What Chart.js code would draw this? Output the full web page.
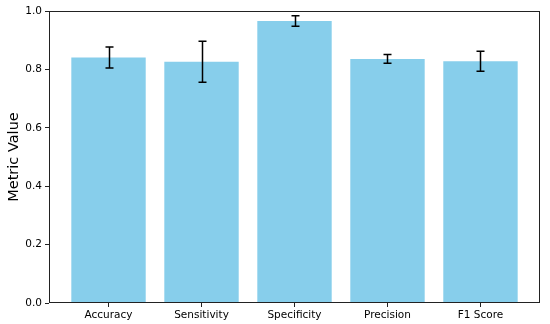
<!DOCTYPE html>
<html><head><meta charset="utf-8">
<script src="https://cdn.jsdelivr.net/npm/chart.js@4"></script>
<style>html,body{margin:0;padding:0;background:#fff}#w{width:550px;height:324px}</style>
</head><body><div id="w"><canvas id="c" width="550" height="324"></canvas></div>
<script>
const categories = ["Accuracy", "Sensitivity", "Specificity", "Precision", "F1 Score"];
const values = [0.841, 0.826, 0.966, 0.836, 0.828];
const errors = [0.036, 0.070, 0.018, 0.015, 0.034];
const yTicks = [0.0, 0.2, 0.4, 0.6, 0.8, 1.0];

const errorBars = {
  id: 'errorBars',
  afterDatasetsDraw(chart) {
    const {ctx, scales: {x, y}} = chart;
    ctx.save();
    ctx.strokeStyle = '#000';
    ctx.lineWidth = 1.5;
    values.forEach((v, i) => {
      const px = Math.round(x.getPixelForValue(i)) + 0.5;
      const top = y.getPixelForValue(v + errors[i]);
      const bot = y.getPixelForValue(v - errors[i]);
      ctx.beginPath();
      ctx.moveTo(px, top); ctx.lineTo(px, bot);
      ctx.moveTo(px - 4, top); ctx.lineTo(px + 4, top);
      ctx.moveTo(px - 4, bot); ctx.lineTo(px + 4, bot);
      ctx.stroke();
    });
    ctx.restore();
  }
};
const frame = {
  id: 'frame',
  afterDraw(chart) {
    const {ctx, chartArea: a} = chart;
    ctx.save();
    ctx.strokeStyle = '#222';
    ctx.lineWidth = 1;
    ctx.strokeRect(a.left + 0.5, a.top + 0.5, a.right - a.left - 1, a.bottom - a.top - 1);
    ctx.restore();
  }
};

new Chart(document.getElementById('c'), {
  type: 'bar',
  data: {
    datasets: [{
      data: categories.map((c, i) => ({x: i, y: values[i]})),
      backgroundColor: '#87CEEB',
      barPercentage: 1.0,
      categoryPercentage: 0.8
    }]
  },
  options: {
    responsive: false,
    animation: false,
    events: [],
    layout: {padding: {top: 11, right: 10, left: 0, bottom: 0}},
    plugins: {legend: {display: false}, tooltip: {enabled: false}},
    scales: {
      x: {
        type: 'linear',
        offset: false,
        min: -0.64, max: 4.64,
        afterBuildTicks(s) { s.ticks = categories.map((c, i) => ({value: i})); },
        afterFit(s) { s.height = 21; },
        ticks: {
          autoSkip: false, maxRotation: 0,
          color: '#000', font: {family: 'DejaVu Sans', size: 10.5}, padding: 2,
          callback: (v) => categories[v]
        },
        grid: {display: true, drawOnChartArea: false, drawTicks: true, tickLength: 4, color: '#222', offset: false},
        border: {display: false}
      },
      y: {
        min: 0, max: 1,
        afterBuildTicks(s) { s.ticks = yTicks.map(v => ({value: v})); },
        afterFit(s) { s.width = 49; },
        ticks: {
          color: '#000', font: {family: 'DejaVu Sans', size: 10.5}, padding: 3,
          callback: (v) => v.toFixed(1)
        },
        title: {display: true, text: 'Metric Value', color: '#000', font: {family: 'DejaVu Sans', size: 14.5}, padding: {top: 6, bottom: 2}},
        grid: {display: true, drawOnChartArea: false, drawTicks: true, tickLength: 4, color: '#222'},
        border: {display: false}
      }
    }
  },
  plugins: [errorBars, frame]
});
</script></body></html>
